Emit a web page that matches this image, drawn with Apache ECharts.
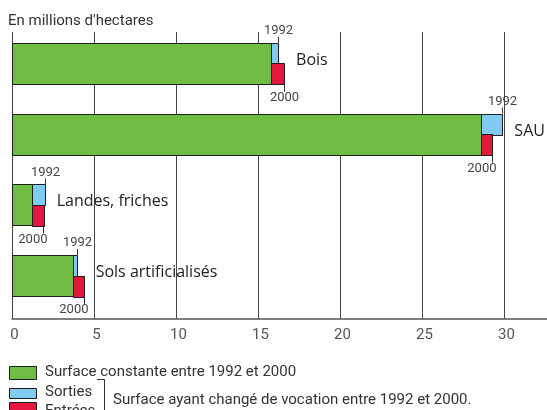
<!DOCTYPE html>
<html><head><meta charset="utf-8">
<script src="https://cdn.jsdelivr.net/npm/echarts@6/dist/echarts.min.js"></script>
<style>html,body{margin:0;padding:0;background:#fff}#c{width:547px;height:410px}</style>
</head><body><div id="c"></div>
<script>
// ---- data ----
const categories = ['Bois', 'SAU', 'Landes, friches', 'Sols artificialisés'];
const constante = [15.8, 28.6, 1.2, 3.7];   // surface constante 1992-2000
const sorties   = [0.43, 1.3, 0.79, 0.26];  // sorties (1992 = constante + sorties)
const entrees   = [0.79, 0.65, 0.71, 0.67]; // entrées (2000 = constante + entrées)
const xTickLabels = [0, 5, 10, 15, 20, 25, 30];
const yearLabels = ['1992', '2000'];
const title = "En millions d'hectares";
const legendTexts = ['Surface constante entre 1992 et 2000', 'Sorties', 'Entrées',
  'Surface ayant changé de vocation entre 1992 et 2000.'];

// ---- styles ----
const GREEN = '#70bd44', BLUE = '#80cbef', RED = '#e6173f', EDGE = '#1e1e1e';
const LIGHT = 'Roboto,"Open Sans",sans-serif';
const SANS = '"Open Sans",sans-serif';
const BAR_FRAC = 0.58;
const align2000 = ['center', 'right', 'right', 'right'];

const chart = echarts.init(document.getElementById('c'), null, {renderer: 'canvas'});

const greenData = categories.map((c, i) => [0, constante[i], i]);
const blueData = categories.map((c, i) => [constante[i], constante[i] + sorties[i], i]);
const redData = categories.map((c, i) => [constante[i], constante[i] + entrees[i], i]);
const annData = categories.map((c, i) => [constante[i] + sorties[i], constante[i] + entrees[i], i]);

function barRender(part, color) {
  return function (params, api) {
    const a = api.coord([api.value(0), api.value(2)]);
    const b = api.coord([api.value(1), api.value(2)]);
    const h = api.size([0, 1])[1] * BAR_FRAC;
    let y = a[1] - h / 2, hh = h;
    if (part === 'top') { hh = h / 2; }
    if (part === 'bottom') { y = a[1]; hh = h / 2; }
    return {
      type: 'rect',
      shape: {x: Math.round(a[0]) + 0.5, y: Math.round(y) + 0.5, width: Math.round(b[0] - a[0]), height: Math.round(hh)},
      style: {fill: color, stroke: EDGE, lineWidth: 1}
    };
  };
}

function annRender(params, api) {
  const i = api.value(2);
  const pBlue = api.coord([api.value(0), i]);
  const pRed = api.coord([api.value(1), i]);
  const h = api.size([0, 1])[1] * BAR_FRAC;
  const top = pBlue[1] - h / 2, bot = pBlue[1] + h / 2;
  const xb = Math.round(pBlue[0]) + 0.5, xr = Math.round(pRed[0]) + 0.5;
  const maxX = Math.max(pBlue[0], pRed[0]);
  const al = align2000[i];
  const tx2000 = al === 'center' ? xr : xr + 4;
  return {
    type: 'group',
    children: [
      {type: 'line', shape: {x1: xb, y1: top - 6, x2: xb, y2: top}, style: {stroke: '#333', lineWidth: 1}},
      {type: 'text', style: {text: yearLabels[0], x: xb, y: top - 12, align: 'center', verticalAlign: 'middle',
        fontFamily: LIGHT, fontSize: 13, fill: '#444'}},
      {type: 'line', shape: {x1: xr, y1: bot, x2: xr, y2: bot + 8}, style: {stroke: '#333', lineWidth: 1}},
      {type: 'text', style: {text: yearLabels[1], x: tx2000, y: bot + 14, align: al, verticalAlign: 'middle',
        fontFamily: LIGHT, fontSize: 13, fill: '#444'}},
      {type: 'text', style: {text: categories[i], x: maxX + 12, y: pBlue[1] - 3, align: 'left', verticalAlign: 'middle',
        fontFamily: SANS, fontSize: 16, fill: '#222'}}
    ]
  };
}

const option = {
  animation: false,
  backgroundColor: '#fff',
  grid: [
    {left: 12, top: 27.9, width: 574, height: 283.2, outerBoundsMode: 'none', containLabel: false},
    {left: 12, top: 32, width: 574, height: 287, outerBoundsMode: 'none', containLabel: false}
  ],
  xAxis: [
    {gridIndex: 0, type: 'value', min: 0, max: 35, interval: 5, show: false},
    {gridIndex: 1, type: 'value', min: 0, max: 35, interval: 5,
      axisLine: {show: true, lineStyle: {color: '#555', width: 1.5}},
      axisTick: {show: false},
      splitLine: {show: true, lineStyle: {color: '#444', width: 1}},
      axisLabel: {color: '#555', fontFamily: LIGHT, fontSize: 15, margin: 9, padding: [0, 0, 0, 5],
        formatter: v => xTickLabels.includes(v) ? String(v) : ''}
    }
  ],
  yAxis: [
    {gridIndex: 0, type: 'category', data: categories, inverse: true, show: false},
    {gridIndex: 1, type: 'value', min: 0, max: 1, show: false}
  ],
  series: [
    {type: 'custom', xAxisIndex: 0, yAxisIndex: 0, data: greenData, encode: {x: [0, 1], y: 2}, renderItem: barRender('full', GREEN)},
    {type: 'custom', xAxisIndex: 0, yAxisIndex: 0, data: blueData, encode: {x: [0, 1], y: 2}, renderItem: barRender('top', BLUE)},
    {type: 'custom', xAxisIndex: 0, yAxisIndex: 0, data: redData, encode: {x: [0, 1], y: 2}, renderItem: barRender('bottom', RED)},
    {type: 'custom', xAxisIndex: 0, yAxisIndex: 0, data: annData, encode: {x: [0, 1], y: 2}, renderItem: annRender, z: 5}
  ],
  graphic: [
    {type: 'text', x: 8, y: 21, style: {text: title, fontFamily: LIGHT, fontSize: 15, fill: '#333', verticalAlign: 'middle'}},
    {type: 'rect', shape: {x: 9.5, y: 366.5, width: 27, height: 13}, style: {fill: GREEN, stroke: EDGE, lineWidth: 1}},
    {type: 'text', x: 45, y: 372, style: {text: legendTexts[0], fontFamily: LIGHT, fontSize: 15, fill: '#333', verticalAlign: 'middle'}},
    {type: 'rect', shape: {x: 9.5, y: 388.5, width: 27, height: 10}, style: {fill: BLUE, stroke: EDGE, lineWidth: 1}},
    {type: 'text', x: 45, y: 392, style: {text: legendTexts[1], fontFamily: LIGHT, fontSize: 15, fill: '#333', verticalAlign: 'middle'}},
    {type: 'rect', shape: {x: 9.5, y: 402.5, width: 27, height: 13}, style: {fill: RED, stroke: EDGE, lineWidth: 1}},
    {type: 'text', x: 45, y: 411, style: {text: legendTexts[2], fontFamily: LIGHT, fontSize: 15, fill: '#333', verticalAlign: 'middle'}},
    {type: 'polyline', shape: {points: [[97, 379.5], [104.5, 379.5], [104.5, 412]]}, style: {stroke: '#333', lineWidth: 1, fill: null}},
    {type: 'text', x: 113, y: 400, style: {text: legendTexts[3], fontFamily: LIGHT, fontSize: 15, fill: '#333', verticalAlign: 'middle'}}
  ]
};
chart.setOption(option);
</script></body></html>
